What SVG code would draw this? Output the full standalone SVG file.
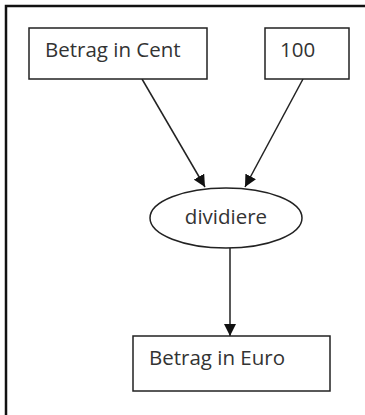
<svg xmlns="http://www.w3.org/2000/svg" width="365" height="415" viewBox="0 0 365 415">
<style>
.box{fill:#fff;stroke:#222;stroke-width:1.5}
.lbl{font-family:"Open Sans","Liberation Sans",sans-serif;font-size:20.5px;fill:#333}
.edge{stroke:#222;stroke-width:1.5;fill:none;marker-end:url(#arr)}
</style>
<defs>
<marker id="arr" viewBox="0 0 10 10" refX="10" refY="5" markerWidth="12" markerHeight="12" markerUnits="userSpaceOnUse" orient="auto">
<path d="M0,0 L10,5 L0,10 Z" fill="#111"/>
</marker>
</defs>
<rect x="0" y="0" width="365" height="415" fill="#fff"/>
<path d="M6,415 V6 H365" fill="none" stroke="#111" stroke-width="2.5"/>
<g id="connectors">
<line class="edge" x1="142" y1="79" x2="205" y2="187"/>
<line class="edge" x1="303" y1="79" x2="245" y2="187"/>
<line class="edge" x1="230" y1="248" x2="230" y2="336"/>
</g>
<g id="cent">
<rect class="box" x="29" y="28" width="178" height="51"/>
<text class="lbl" x="45" y="57">Betrag in Cent</text>
</g>
<g id="hundert">
<rect class="box" x="265" y="28" width="84" height="51"/>
<text class="lbl" x="280" y="57">100</text>
</g>
<g id="dividiere">
<ellipse class="box" cx="226" cy="218" rx="76" ry="30"/>
<text class="lbl" x="226" y="224" text-anchor="middle">dividiere</text>
</g>
<g id="euro">
<rect class="box" x="133" y="336" width="197" height="55"/>
<text class="lbl" x="149" y="365">Betrag in Euro</text>
</g>
</svg>
